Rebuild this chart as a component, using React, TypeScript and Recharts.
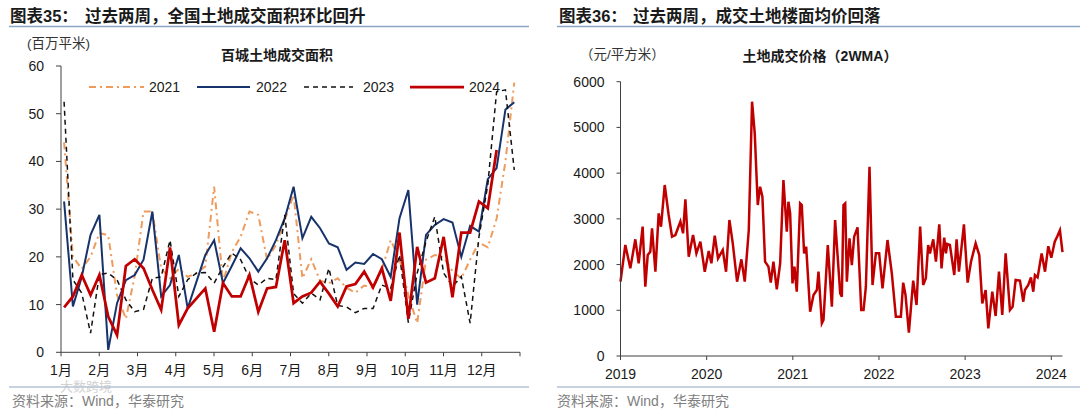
import React from 'react';
import { LineChart, Line, XAxis, YAxis } from 'recharts';

// 百城土地成交面积（百万平米），每年 52 周
const area2021 = [
  44, 20, 17.5, 20, 25, 24.5, 12, 7, 16, 29.5, 29.5, 17.5, 15.5, 17.5, 15.8, 16.6, 18, 34.7, 14.7, 21,
  24.2, 29.5, 28.8, 19.4, 22.5, 27.7, 33, 15.5, 19.5, 15, 14.5, 15.5, 13.5, 12.5, 14, 13.5, 17.3, 23.5, 19.5, 12,
  6.1, 19.4, 20.4, 19.9, 17, 15.5, 19.4, 23, 22, 28, 40, 56.5,
];
const area2022 = [
  31.6, 9.6, 15.8, 24.6, 28.8, 0.5, 10.3, 15.1, 16.2, 19.4, 29.5, 11.7, 14.1, 20.4, 9.2, 14.8, 20.4, 23.5, 14.5, 18.1,
  21.8, 19.7, 16.9, 19.7, 23.5, 28.1, 34.7, 23.9, 28.4, 26, 22.8, 22, 17.3, 18.8, 18.5, 20.6, 19.5, 15.8, 28.1, 34,
  10, 24.6, 26.7, 27.9, 27.2, 20, 26.5, 25.3, 36.3, 38.6, 50.9, 52.4,
];
const area2023 = [
  52.5, 15.2, 12.4, 4, 16.3, 16.6, 15.2, 11, 8.5, 9, 15.5, 15.8, 23.5, 11.7, 15.2, 16.6, 16.7, 14.5, 17.9, 20.8,
  19.4, 15.5, 14.1, 15.5, 15.2, 28.8, 12.3, 10.3, 12.4, 11, 17.6, 9.8, 9.5, 8.3, 9.2, 9.2, 14.1, 13.4, 20.4, 6.2,
  16.6, 23.2, 28.4, 16.6, 13.8, 15.9, 6.1, 24.2, 35.1, 54.6, 55, 38.2,
];
const area2024 = [
  9.4, 11.7, 16.2, 12, 16.2, 7.5, 3.6, 18.1, 19.5, 17.6, 13.1, 8.9, 22, 5.7, 9.2, 11.3, 13.4, 4.3, 14.5, 11.7,
  11.7, 16.2, 8.5, 13.4, 13.7, 23.5, 10.3, 11.7, 12.5, 14.8, 12.3, 9.6, 13.8, 14.3, 16.9, 13.6, 17.6, 10.8, 25.1, 7,
  22.1, 14.6, 15.5, 24.2, 11.5, 25.1, 25.1, 31.6, 30.2, 42.4, null, null,
];
const monthLabels = ['1月', '2月', '3月', '4月', '5月', '6月', '7月', '8月', '9月', '10月', '11月', '12月'];
const areaTicks = [0, 10, 20, 30, 40, 50, 60];

// 土地成交价格（2WMA，元/平方米）
const priceDates = [
  2019.0, 2019.056, 2019.114, 2019.172, 2019.211, 2019.257, 2019.288, 2019.316, 2019.346, 2019.366,
  2019.405, 2019.443, 2019.47, 2019.513, 2019.559, 2019.598, 2019.637, 2019.695, 2019.726, 2019.753,
  2019.792, 2019.842, 2019.881, 2019.927, 2019.978, 2020.024, 2020.055, 2020.094, 2020.132, 2020.187,
  2020.225, 2020.264, 2020.303, 2020.353, 2020.403, 2020.442, 2020.489, 2020.527, 2020.558, 2020.593,
  2020.62, 2020.647, 2020.678, 2020.717, 2020.744, 2020.775, 2020.814, 2020.853, 2020.891, 2020.93,
  2020.949, 2020.969, 2020.996, 2021.019, 2021.046, 2021.085, 2021.104, 2021.131, 2021.155, 2021.201,
  2021.24, 2021.279, 2021.298, 2021.337, 2021.356, 2021.406, 2021.453, 2021.491, 2021.55, 2021.569,
  2021.588, 2021.608, 2021.627, 2021.658, 2021.685, 2021.712, 2021.751, 2021.794, 2021.821, 2021.848,
  2021.89, 2021.925, 2021.964, 2022.002, 2022.041, 2022.099, 2022.149, 2022.196, 2022.254, 2022.281,
  2022.308, 2022.347, 2022.397, 2022.436, 2022.478, 2022.513, 2022.544, 2022.571, 2022.591, 2022.63,
  2022.661, 2022.7, 2022.726, 2022.757, 2022.777, 2022.792, 2022.823, 2022.874, 2022.901, 2022.928,
  2022.986, 2023.029, 2023.068, 2023.122, 2023.164, 2023.199, 2023.238, 2023.269, 2023.315, 2023.354,
  2023.393, 2023.431, 2023.47, 2023.52, 2023.551, 2023.586, 2023.636, 2023.675, 2023.694, 2023.733,
  2023.764, 2023.791, 2023.81, 2023.841, 2023.888, 2023.927, 2023.965, 2024.0, 2024.04, 2024.07,
  2024.1, 2024.13,
];
const priceValues = [
  1626, 2428, 1917, 2552, 2027, 2829, 1516, 2209, 2282, 2792,
  1844, 3120, 2829, 3740, 3084, 2610, 2646, 2938, 2683, 3426,
  2172, 2646, 2245, 2500, 1844, 2296, 2027, 2632, 2136, 2318,
  1844, 2974, 2464, 1626, 2114, 1626, 2756, 5562, 4870, 3302,
  3703, 3485, 2063, 1954, 1604, 2063, 1458, 2027, 3849, 2719,
  3375, 3120, 1589, 1954, 1407, 3339, 3302, 2245, 2391, 970,
  1334, 1443, 1844, 714, 787, 2428, 1079, 2974, 1370, 1298,
  3302, 3339, 1626, 2573, 1990, 2610, 2814, 1006, 1006, 1516,
  4141, 1553, 2245, 2245, 1480, 2537, 1808, 860, 860, 1604,
  1334, 510, 1648, 1115, 2829, 1553, 1699, 2428, 2245, 2552,
  2063, 2880, 1917, 2588, 2245, 2449, 2428, 1771, 2552, 1844,
  2880, 1604, 2063, 2464, 2209, 1152, 1443, 605, 1407, 875,
  1844, 897, 2245, 1006, 1079, 1662, 1648, 1188, 1443, 1553,
  1720, 1407, 1771, 1720, 2245, 1844, 2400, 2150, 2500, 2620,
  2750, 2270,
];
const yearTicks = [2019, 2020, 2021, 2022, 2023, 2024];
const priceTicks = [0, 1000, 2000, 3000, 4000, 5000, 6000];

const FONT = "'Liberation Sans', Arial, 'Noto Sans CJK SC', sans-serif";
const AXIS = '#404040';
const TICK = { fontSize: 14, fill: '#1a1a1a', fontFamily: FONT };

const areaSeries = [
  { key: 'y2021', name: '2021', color: '#EE9B5E', width: 2, dash: '7 4 2 4' },
  { key: 'y2022', name: '2022', color: '#17336B', width: 2, dash: undefined },
  { key: 'y2023', name: '2023', color: '#111111', width: 1.5, dash: '5 4' },
  { key: 'y2024', name: '2024', color: '#C00000', width: 2.75, dash: undefined },
];

const areaData = area2021.map((v, i) => ({
  w: i,
  y2021: v,
  y2022: area2022[i],
  y2023: area2023[i],
  y2024: area2024[i],
}));

const priceData = priceDates.map((t, i) => ({ t, v: priceValues[i] }));

// month ticks: first point sits slightly right of the 1月 tick
const monthTicks = Array.from({ length: 13 }, (_, k) => -0.35 + (k * 52) / 12);
const fmtMonth = (v: number) => monthLabels[Math.round(((v + 0.35) * 12) / 52)] ?? '';

const legendPos = [
  { line: [89, 144], text: 149 },
  { line: [197, 250], text: 256 },
  { line: [304, 353], text: 363 },
  { line: [410, 464], text: 469 },
];

function Overlay() {
  const cjk = { fontFamily: FONT };
  return (
    <svg width={1080} height={414} style={{ position: 'absolute', left: 0, top: 0 }}>
      {/* titles */}
      <text x={10} y={16} dominantBaseline="central" fontSize={16.5} fontWeight={700} fill="#1a1a1a" style={cjk}>图表35：</text>
      <text x={85} y={16} dominantBaseline="central" fontSize={16.5} fontWeight={700} fill="#1a1a1a" style={cjk}>过去两周，全国土地成交面积环比回升</text>
      <text x={559} y={16} dominantBaseline="central" fontSize={16.5} fontWeight={700} fill="#1a1a1a" style={cjk}>图表36：</text>
      <text x={633} y={16} dominantBaseline="central" fontSize={16.5} fontWeight={700} fill="#1a1a1a" style={cjk}>过去两周，成交土地楼面均价回落</text>
      <line x1={9} x2={529} y1={26.5} y2={26.5} stroke="#8DA6C6" strokeWidth={1.5} />
      <line x1={557} x2={1080} y1={26.5} y2={26.5} stroke="#8DA6C6" strokeWidth={1.5} />

      {/* units and chart subtitles */}
      <text x={27} y={43} dominantBaseline="central" fontSize={13.5} fill="#333" style={cjk}>(百万平米)</text>
      <text x={277} y={55} dominantBaseline="central" textAnchor="middle" fontSize={14} fontWeight={700} fill="#1a1a1a" style={cjk}>百城土地成交面积</text>
      <text x={580} y={54} dominantBaseline="central" fontSize={13.5} fill="#333" style={cjk}>（元/平方米）</text>
      <text x={820} y={56} dominantBaseline="central" textAnchor="middle" fontSize={14} fontWeight={700} fill="#1a1a1a" style={cjk}>土地成交价格（2WMA）</text>

      {/* legend */}
      {areaSeries.map((s, i) => (
        <g key={s.key}>
          <line x1={legendPos[i].line[0]} x2={legendPos[i].line[1]} y1={87} y2={87} stroke={s.color} strokeWidth={s.width} strokeDasharray={s.dash} />
          <text x={legendPos[i].text} y={87} dominantBaseline="central" fontSize={14} fill="#1a1a1a" style={cjk}>{s.name}</text>
        </g>
      ))}

      {/* footer */}
      <line x1={9} x2={529} y1={387} y2={387} stroke="#8DA6C6" strokeWidth={1.2} />
      <line x1={557} x2={1080} y1={387} y2={387} stroke="#8DA6C6" strokeWidth={1.2} />
      <text x={12} y={401} dominantBaseline="central" fontSize={14} fill="#808080" style={cjk}>资料来源：Wind，华泰研究</text>
      <text x={557} y={401} dominantBaseline="central" fontSize={14} fill="#808080" style={cjk}>资料来源：Wind，华泰研究</text>
      <text x={60} y={386} dominantBaseline="central" fontSize={13} fill="#c4c4c4" opacity={0.75} style={cjk}>大数跨境</text>
    </svg>
  );
}

function AreaChartLeft() {
  return (
    <LineChart width={540} height={414} data={areaData} margin={{ top: 66, right: 20, bottom: 31.7, left: 21 }}>
      <XAxis
        dataKey="w"
        type="number"
        domain={[-0.35, 51.65]}
        ticks={monthTicks}
        interval={0}
        tickFormatter={fmtMonth}
        height={30}
        tickSize={4}
        tickMargin={9}
        axisLine={{ stroke: AXIS }}
        tickLine={{ stroke: AXIS }}
        tick={TICK}
      />
      <YAxis
        type="number"
        domain={[0, 60]}
        ticks={areaTicks}
        interval={0}
        width={40}
        tickSize={5}
        tickMargin={12}
        axisLine={{ stroke: AXIS }}
        tickLine={{ stroke: AXIS }}
        tick={TICK}
      />
      {areaSeries.map((s) => (
        <Line
          key={s.key}
          type="linear"
          dataKey={s.key}
          name={s.name}
          stroke={s.color}
          strokeWidth={s.width}
          strokeDasharray={s.dash}
          dot={false}
          activeDot={false}
          isAnimationActive={false}
        />
      ))}
    </LineChart>
  );
}

function PriceChartRight() {
  return (
    <LineChart width={540} height={414} data={priceData} margin={{ top: 81.7, right: 17.5, bottom: 28, left: 40.5 }}>
      <XAxis
        dataKey="t"
        type="number"
        domain={[2019, 2024.13]}
        ticks={yearTicks}
        interval={0}
        height={30}
        tickSize={4}
        tickMargin={9}
        axisLine={{ stroke: AXIS }}
        tickLine={{ stroke: AXIS }}
        tick={TICK}
      />
      <YAxis
        type="number"
        domain={[0, 6000]}
        ticks={priceTicks}
        interval={0}
        width={40}
        tickSize={4}
        tickMargin={12}
        axisLine={{ stroke: AXIS }}
        tickLine={{ stroke: AXIS }}
        tick={TICK}
      />
      <Line
        type="linear"
        dataKey="v"
        stroke="#C00000"
        strokeWidth={2.5}
        dot={false}
        activeDot={false}
        isAnimationActive={false}
      />
    </LineChart>
  );
}

export default function App() {
  return (
    <div style={{ position: 'absolute', left: 0, top: 0, width: 1080, height: 414, background: '#fff', overflow: 'hidden' }}>
      <Overlay />
      <div style={{ position: 'absolute', left: 0, top: 0 }}>
        <AreaChartLeft />
      </div>
      <div style={{ position: 'absolute', left: 540, top: 0 }}>
        <PriceChartRight />
      </div>
    </div>
  );
}
